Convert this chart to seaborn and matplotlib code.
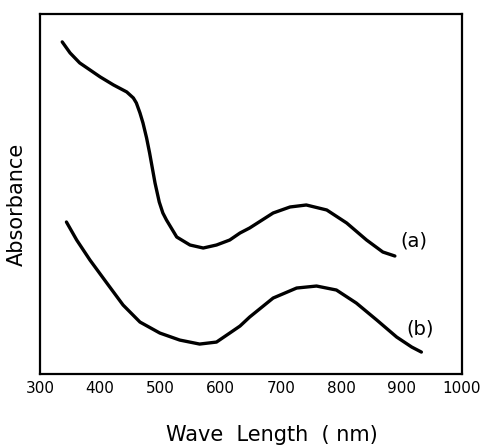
#%%
# Bibliotecas
import pandas as pd
import matplotlib
matplotlib.use('Agg')
import matplotlib.pyplot as plt
import seaborn as sns

#%%
# Dados (absorbância em unidades arbitrárias)
wl_a = [337, 350, 366, 400, 422, 444, 455, 460, 466, 471, 477, 482, 491, 498,
        504, 510, 527, 549, 571, 593, 615, 632, 648, 687, 715, 742, 776, 809, 842,
        869, 889]
abs_a = [332, 321, 311, 297, 289, 282, 276, 271, 261, 251, 236, 221, 191, 172,
         161, 154, 137, 129, 126, 129, 134, 141, 146, 161, 167, 169, 164, 151, 134,
         122, 118]

wl_b = [344, 361, 383, 411, 438, 466, 499, 532, 565, 593, 615, 632, 648, 687, 726,
        759, 792, 825, 859, 892, 917, 933]
abs_b = [152, 134, 114, 91, 69, 52, 41, 34, 30, 32, 41, 48, 57, 76, 86,
         88, 84, 71, 54, 37, 27, 22]

x_ticks = [300, 400, 500, 600, 700, 800, 900, 1000]
curve_labels = ['(a)', '(b)']

df = pd.concat([
    pd.DataFrame({'wl': wl_a, 'absorb': abs_a, 'curva': curve_labels[0]}),
    pd.DataFrame({'wl': wl_b, 'absorb': abs_b, 'curva': curve_labels[1]}),
])

#%%
# Gráfico
sns.set_style('white')
plt.rcParams['font.family'] = ['DejaVu Sans']
plt.rcParams['text.color'] = 'black'
plt.rcParams['axes.labelcolor'] = 'black'
plt.rcParams['xtick.color'] = 'black'

fig = plt.figure(figsize=(4.81, 4.48), dpi=100)
ax = fig.add_axes([0.083, 0.165, 0.877, 0.804])

sns.lineplot(data=df, x='wl', y='absorb', units='curva', estimator=None, sort=False,
             color='black', linewidth=2.4, solid_joinstyle='round',
             solid_capstyle='round', ax=ax)

ax.set_xlim(300, 1000)
ax.set_ylim(0, 360)
ax.set_xticks(x_ticks)
ax.set_xticklabels([str(t) for t in x_ticks], fontsize=11)
ax.set_yticks([])
ax.tick_params(axis='x', direction='in', length=8, width=1.5, pad=5, colors='black')

for s in ax.spines.values():
    s.set_linewidth(1.6)
    s.set_color('black')

ax.text(920, 133, curve_labels[0], fontsize=14, va='center', ha='center', color='black')
ax.text(931, 45, curve_labels[1], fontsize=14, va='center', ha='center', color='black')

ax.set_xlabel('Wave  Length  ( nm)', fontsize=15, color='black')
ax.xaxis.set_label_coords(0.55, -0.14)
ax.set_ylabel('Absorbance', fontsize=15, color='black')
ax.yaxis.set_label_coords(-0.03, 0.47)

fig.savefig('out.png', dpi=100)
